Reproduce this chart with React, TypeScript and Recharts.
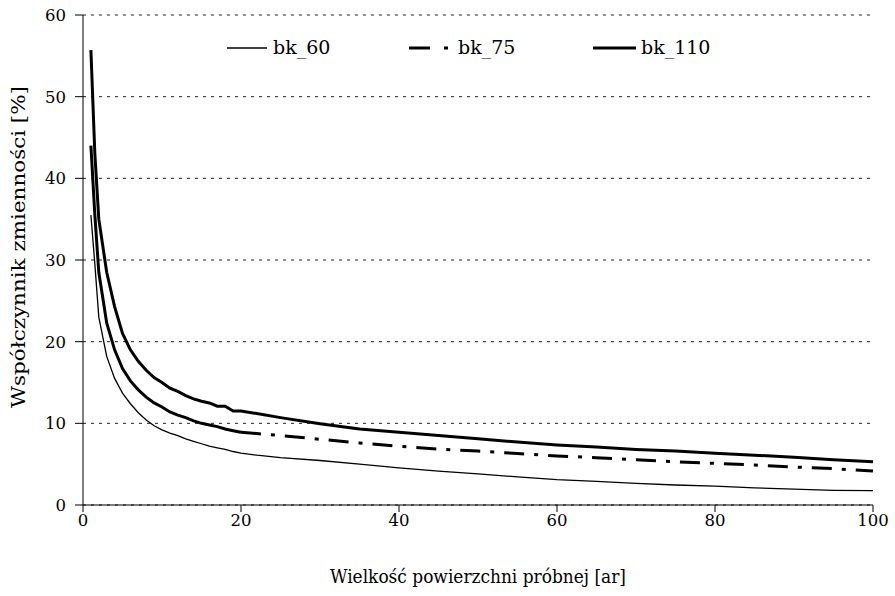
import { CartesianGrid, Line, LineChart, XAxis, YAxis } from 'recharts';

const FONT = 'DejaVu Serif';

// sample plot size [ar]
const sizes = [
  1, 1.5, 2, 3, 4, 5, 6, 7, 8, 9, 10, 11, 12, 13, 14, 15, 16, 17, 18, 19, 20,
  22, 25, 30, 35, 40, 45, 50, 55, 60, 65, 70, 75, 80, 85, 90, 95, 100,
];

// coefficient of variation [%]
const bk60 = [
  35.5, 29.5, 23, 18.2, 15.5, 13.7, 12.4, 11.3, 10.4, 9.7, 9.2, 8.8, 8.5, 8.1, 7.8, 7.5, 7.2, 7.0, 6.8, 6.55, 6.35,
  6.1, 5.8, 5.45, 5.0, 4.55, 4.15, 3.8, 3.45, 3.1, 2.9, 2.65, 2.45, 2.3, 2.1, 1.95, 1.8, 1.75,
];
const bk75 = [
  44, 35.5, 28.5, 22.3, 19, 16.7, 15.2, 14.1, 13.2, 12.5, 12.0, 11.4, 11.0, 10.7, 10.3, 10.0, 9.8, 9.6, 9.3, 9.1, 8.9,
  8.75, 8.5, 8.05, 7.6, 7.2, 6.85, 6.6, 6.3, 6.0, 5.8, 5.55, 5.3, 5.1, 4.9, 4.65, 4.45, 4.15,
];
const bk110 = [
  55.7, 43, 35, 28.5, 24.3, 21.0, 19.0, 17.6, 16.5, 15.6, 15.0, 14.3, 13.9, 13.4, 13.0, 12.7, 12.5, 12.1, 12.1, 11.5, 11.5,
  11.2, 10.7, 9.95, 9.3, 8.9, 8.5, 8.1, 7.7, 7.35, 7.1, 6.8, 6.6, 6.35, 6.1, 5.85, 5.55, 5.3,
];

const xTicks = [0, 20, 40, 60, 80, 100];
const yTicks = [0, 10, 20, 30, 40, 50, 60];

// bk_75: short steps at the start look solid, the dash pattern only shows from ~20 ar
const rows = sizes.map((x, i) => ({
  x,
  bk_60: bk60[i],
  bk_110: bk110[i],
  bk_75_head: x <= 20 ? bk75[i] : null,
  bk_75_tail: x >= 20 ? bk75[i] : null,
}));

const DASH_75 = '20 10 4 10';

// legend drawn as an overlay so it does not eat into the plot area
function LegendBox() {
  const t = { fontFamily: FONT, fontSize: 19, fill: '#000' };
  return (
    <svg width={895} height={30} style={{ position: 'absolute', left: 0, top: 33 }}>
      <line x1={227} x2={267} y1={15} y2={15} stroke="#000" strokeWidth={1.3} />
      <text x={273} y={21} style={t}>bk_60</text>
      <line x1={409} x2={450} y1={15} y2={15} stroke="#000" strokeWidth={3} strokeDasharray="21 14 4 10" />
      <text x={458} y={21} style={t}>bk_75</text>
      <line x1={593} x2={636} y1={15} y2={15} stroke="#000" strokeWidth={3} />
      <text x={641} y={21} style={t}>bk_110</text>
    </svg>
  );
}

function YTitle() {
  return (
    <text
      transform="translate(25,247) rotate(-90)"
      textAnchor="middle"
      style={{ fontFamily: FONT, fontSize: 18 }}
      fill="#000"
      textLength={322}
      lengthAdjust="spacingAndGlyphs"
    >
      Współczynnik zmienności [%]
    </text>
  );
}

function XTitle() {
  return (
    <text
      x={478}
      y={583}
      textAnchor="middle"
      style={{ fontFamily: FONT, fontSize: 18 }}
      fill="#000"
      textLength={296}
      lengthAdjust="spacingAndGlyphs"
    >
      Wielkość powierzchni próbnej [ar]
    </text>
  );
}

export default function App() {
  const tick = { fontFamily: FONT, fontSize: 16.5, fill: '#000' };
  return (
    <div style={{ position: 'absolute', left: 0, top: 0, width: 895, height: 596, background: '#fff' }}>
      <LineChart width={895} height={596} data={rows} margin={{ top: 15, right: 22, bottom: 61, left: 0 }}>
        <CartesianGrid vertical={false} stroke="#222" strokeDasharray="3 5" />
        <XAxis
          dataKey="x"
          type="number"
          domain={[0, 100]}
          ticks={xTicks}
          tick={tick}
          height={30}
          tickSize={7}
          tickMargin={2}
          axisLine={{ stroke: '#000' }}
          tickLine={{ stroke: '#000' }}
          label={<XTitle />}
        />
        <YAxis
          type="number"
          domain={[0, 60]}
          ticks={yTicks}
          width={83}
          tick={tick}
          tickSize={8}
          tickMargin={9}
          axisLine={{ stroke: '#000' }}
          tickLine={{ stroke: '#000' }}
          label={<YTitle />}
        />
        <Line type="linear" dataKey="bk_60" stroke="#000" strokeWidth={1.3} dot={false} isAnimationActive={false} />
        <Line type="linear" dataKey="bk_75_head" stroke="#000" strokeWidth={3} dot={false} isAnimationActive={false} />
        <Line
          type="linear"
          dataKey="bk_75_tail"
          stroke="#000"
          strokeWidth={3}
          strokeDasharray={DASH_75}
          dot={false}
          isAnimationActive={false}
        />
        <Line type="linear" dataKey="bk_110" stroke="#000" strokeWidth={3} dot={false} isAnimationActive={false} />
      </LineChart>
      <LegendBox />
    </div>
  );
}
